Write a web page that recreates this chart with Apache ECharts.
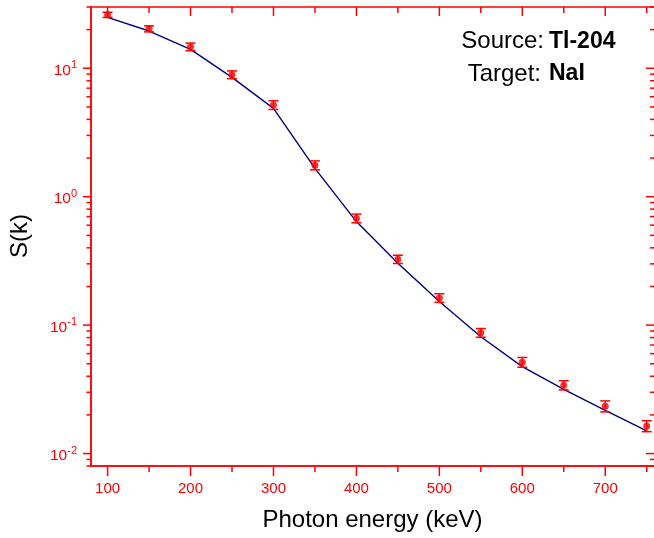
<!DOCTYPE html>
<html>
<head>
<meta charset="utf-8">
<script src="https://cdn.jsdelivr.net/npm/echarts@6/dist/echarts.min.js"></script>
<style>
html,body{margin:0;padding:0;background:#fff;}
#chart{width:654px;height:538px;}
</style>
</head>
<body>
<div id="chart"></div>
<script>
// ---- data ----
const energy = [100, 150, 200, 250, 300, 350, 400, 450, 500, 550, 600, 650, 700, 750];
const sMeasured = [26.1, 20.3, 14.7, 8.92, 5.18, 1.76, 0.679, 0.326, 0.163, 0.0873, 0.0515, 0.0341, 0.0234, 0.0164];
const sError = [1.2, 1.1, 1.0, 0.62, 0.4, 0.14, 0.053, 0.024, 0.0125, 0.0068, 0.0045, 0.0028, 0.0023, 0.0016];
const sFit = [24.9, 19.5, 14.05, 8.5, 4.87, 1.66, 0.64, 0.303, 0.153, 0.0812, 0.0475, 0.0316, 0.0217, 0.0150];

const xMajorTicks = [100, 200, 300, 400, 500, 600, 700];
const xMinorTicks = [150, 250, 350, 450, 550, 650, 750];
const yMajorTicks = [0.01, 0.1, 1, 10];
const yMinorTicks = [0.008, 0.009, 0.02, 0.03, 0.04, 0.05, 0.06, 0.07, 0.08, 0.09,
  0.2, 0.3, 0.4, 0.5, 0.6, 0.7, 0.8, 0.9, 2, 3, 4, 5, 6, 7, 8, 9, 20, 30];

const xTitle = 'Photon energy (keV)';
const yTitle = 'S(k)';
const sourceLabel = 'Source:';
const sourceValue = 'Tl-204';
const targetLabel = 'Target:';
const targetValue = 'NaI';

const xMin = 80, xMax = 760, yMin = 0.008, yMax = 30;
const RED = '#ff0000';
const NAVY = '#00007f';
const FONT = '"Liberation Sans", Arial, sans-serif';

// build series data from arrays
const measuredData = energy.map((x, i) => [x, sMeasured[i]]);
const fitData = energy.map((x, i) => [x, sFit[i]]);
const errorData = energy.map((x, i) => [x, sMeasured[i] - sError[i], sMeasured[i] + sError[i]]);
const tickData = [];
xMajorTicks.forEach(v => tickData.push([v, 1, 0]));
xMinorTicks.forEach(v => tickData.push([v, 1, 1]));
yMajorTicks.forEach(v => tickData.push([400, v, 2]));
yMinorTicks.forEach(v => tickData.push([400, v, 3]));

const chart = echarts.init(document.getElementById('chart'), null, {renderer: 'canvas'});

function line(x1, y1, x2, y2, w) {
  return {type: 'line', shape: {x1, y1, x2, y2}, style: {stroke: RED, lineWidth: w || 1.5}};
}

const option = {
  animation: false,
  backgroundColor: '#ffffff',
  grid: {left: 91, top: 7, width: 564, height: 459, show: true, borderColor: RED, borderWidth: 1.5,
    backgroundColor: 'transparent', outerBoundsMode: 'none', containLabel: false},
  xAxis: {
    type: 'value', min: xMin, max: xMax,
    axisLine: {show: true, lineStyle: {color: RED, width: 1.5}},
    axisTick: {show: false},
    splitLine: {show: false},
    axisLabel: {
      color: RED, fontSize: 15, fontFamily: FONT, margin: 15,
      formatter: v => (xMajorTicks.indexOf(v) >= 0 ? String(v) : '')
    }
  },
  yAxis: {
    type: 'log', min: yMin, max: yMax, logBase: 10,
    axisLine: {show: true, lineStyle: {color: RED, width: 1.5}},
    axisTick: {show: false},
    splitLine: {show: false},
    axisLabel: {
      color: RED, margin: 14, fontSize: 15.5, fontFamily: FONT, lineHeight: 16, padding: [5, 0, 0, 0],
      formatter: v => {
        const l = Math.log10(v);
        const e = Math.round(l);
        if (Math.abs(l - e) > 1e-6) return '';
        return '10{s|' + e + '}';
      },
      rich: {
        s: {fontSize: 11, lineHeight: 11, fontFamily: FONT, color: RED, verticalAlign: 'bottom', padding: [0, 0, 8, 0]}
      }
    }
  },
  series: [
    {
      type: 'custom', name: 'ticks', data: tickData, clip: false, silent: true, z: 5,
      renderItem: function (params, api) {
        const cs = params.coordSys;
        const kind = api.value(2);
        const p = api.coord([api.value(0), api.value(1)]);
        const left = cs.x, right = cs.x + cs.width, top = cs.y, bottom = cs.y + cs.height;
        if (kind === 0 || kind === 1) {
          const major = kind === 0;
          return {type: 'group', children: [
            line(p[0], bottom, p[0], bottom + (major ? 10 : 6)),
            line(p[0], top, p[0], top + (major ? 9 : 6))
          ]};
        }
        const major = kind === 2;
        return {type: 'group', children: [
          line(left - (major ? 8 : 4.5), p[1], left, p[1]),
          line(right - (major ? 9 : 5), p[1], right, p[1])
        ]};
      }
    },
    {
      type: 'line', name: 'fit', data: fitData, showSymbol: false, symbol: 'none',
      lineStyle: {color: NAVY, width: 1.4}, z: 3
    },
    {
      type: 'custom', name: 'error', data: errorData, clip: false, z: 4,
      encode: {x: 0, y: [1, 2]},
      renderItem: function (params, api) {
        const lo = api.coord([api.value(0), api.value(1)]);
        const hi = api.coord([api.value(0), api.value(2)]);
        const hw = 5;
        return {type: 'group', children: [
          line(lo[0], lo[1], hi[0], hi[1], 1.3),
          line(lo[0] - hw, lo[1], lo[0] + hw, lo[1], 1.5),
          line(hi[0] - hw, hi[1], hi[0] + hw, hi[1], 1.5)
        ]};
      }
    },
    {
      type: 'scatter', name: 'measured', data: measuredData, symbol: 'circle', symbolSize: 7,
      itemStyle: {color: RED}, z: 6
    }
  ],
  graphic: [
    {type: 'text', x: 544, y: 41.5, style: {text: sourceLabel, fill: '#000', font: '24px ' + FONT, textAlign: 'right', textVerticalAlign: 'middle'}},
    {type: 'text', x: 549, y: 41.5, style: {text: sourceValue, fill: '#000', font: 'bold 23px ' + FONT, textAlign: 'left', textVerticalAlign: 'middle'}},
    {type: 'text', x: 541, y: 74, style: {text: targetLabel, fill: '#000', font: '24px ' + FONT, textAlign: 'right', textVerticalAlign: 'middle'}},
    {type: 'text', x: 549, y: 74, style: {text: targetValue, fill: '#000', font: 'bold 23px ' + FONT, textAlign: 'left', textVerticalAlign: 'middle'}},
    {type: 'text', x: 372.5, y: 520.5, style: {text: xTitle, fill: '#000', font: '24px ' + FONT, textAlign: 'center', textVerticalAlign: 'middle'}},
    {type: 'text', x: 20, y: 236, rotation: Math.PI / 2, style: {text: yTitle, fill: '#000', font: '24px ' + FONT, textAlign: 'center', textVerticalAlign: 'middle'}}
  ]
};
chart.setOption(option);
</script>
</body>
</html>
